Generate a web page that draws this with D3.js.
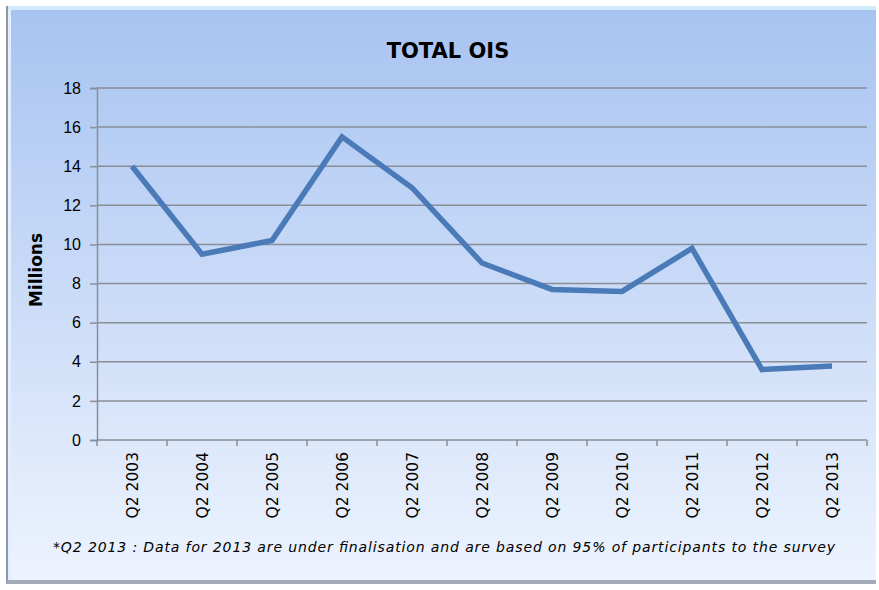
<!DOCTYPE html>
<html>
<head>
<meta charset="utf-8">
<script src="https://cdn.jsdelivr.net/npm/d3@7"></script>
<style>
  body { margin: 0; background: #fff; }
  svg { display: block; font-family: "DejaVu Sans", Verdana, sans-serif; }
</style>
</head>
<body>
<div id="chart"></div>
<script>
// data
const categories = ["Q2 2003", "Q2 2004", "Q2 2005", "Q2 2006", "Q2 2007", "Q2 2008",
                    "Q2 2009", "Q2 2010", "Q2 2011", "Q2 2012", "Q2 2013"];
const totalOis = [14.0, 9.5, 10.2, 15.5, 12.9, 9.05, 7.7, 7.6, 9.8, 3.6, 3.78];
const yTicks = [0, 2, 4, 6, 8, 10, 12, 14, 16, 18];

const W = 879, H = 590;
const margin = { top: 88, right: 12, bottom: 150, left: 97 };
const width = 867 - margin.left;
const height = 440 - margin.top;

const svg = d3.select("#chart").append("svg")
    .attr("width", W).attr("height", H);

// background gradient + frame
const defs = svg.append("defs");
const grad = defs.append("linearGradient").attr("id", "bg")
    .attr("x1", 0).attr("y1", 0).attr("x2", 0).attr("y2", 1);
grad.append("stop").attr("offset", "0%").attr("stop-color", "#a7c3f1");
grad.append("stop").attr("offset", "100%").attr("stop-color", "#eef4fe");

svg.append("rect").attr("x", 7).attr("y", 6).attr("width", 869).attr("height", 578)
    .attr("fill", "url(#bg)");
// bevel edges
svg.append("rect").attr("x", 7).attr("y", 6).attr("width", 869).attr("height", 4)
    .attr("fill", "#d6f0fb").attr("opacity", 0.9);
svg.append("rect").attr("x", 6).attr("y", 6).attr("width", 2).attr("height", 578)
    .attr("fill", "#8e98a8");
svg.append("rect").attr("x", 8).attr("y", 10).attr("width", 3).attr("height", 572)
    .attr("fill", "#e4eefc");
svg.append("rect").attr("x", 7).attr("y", 580).attr("width", 869).attr("height", 4)
    .attr("fill", "#a4abb6");

const g = svg.append("g").attr("transform", `translate(${margin.left},${margin.top})`);

const x = d3.scaleBand().domain(categories).range([0, width]);
const y = d3.scaleLinear().domain([0, 18]).range([height, 0]);

// gridlines
g.selectAll(".grid").data(yTicks.filter(d => d > 0)).enter().append("line")
    .attr("x1", 0).attr("x2", width)
    .attr("y1", d => y(d)).attr("y2", d => y(d))
    .attr("stroke", "#8a8e96").attr("stroke-width", 1.5);

// y axis
const yAxis = g.append("g")
    .call(d3.axisLeft(y).tickValues(yTicks).tickSize(7).tickPadding(9).tickFormat(d3.format("d")));
yAxis.select(".domain").attr("stroke", "#8a8e96").attr("stroke-width", 1.5);
yAxis.selectAll(".tick line").attr("stroke", "#8a8e96").attr("stroke-width", 1.5);
yAxis.selectAll("text").style("font-size", "16px").attr("fill", "#000");

// x axis: ticks between categories
const xAxis = g.append("g").attr("transform", `translate(0,${height})`);
xAxis.append("line").attr("x1", 0).attr("x2", width)
    .attr("stroke", "#8a8e96").attr("stroke-width", 1.5);
xAxis.selectAll(".xtick").data(categories.concat(["end"])).enter().append("line")
    .attr("x1", (d, i) => i * x.step()).attr("x2", (d, i) => i * x.step())
    .attr("y1", 0).attr("y2", 6)
    .attr("stroke", "#8a8e96").attr("stroke-width", 1.5);
xAxis.selectAll(".xlabel").data(categories).enter().append("text")
    .attr("transform", d => `translate(${x(d) + x.bandwidth() / 2 + 6},${12}) rotate(-90)`)
    .attr("text-anchor", "end")
    .style("font-size", "15.5px")
    .text(d => d);

// line
const line = d3.line()
    .x((d, i) => x(categories[i]) + x.bandwidth() / 2)
    .y(d => y(d));
g.append("path").datum(totalOis)
    .attr("d", line)
    .attr("fill", "none")
    .attr("stroke", "#4a7ab8")
    .attr("stroke-width", 5.5)
    .attr("stroke-linejoin", "miter");

// title
svg.append("text").attr("x", 448).attr("y", 58)
    .attr("text-anchor", "middle")
    .style("font-size", "21px").style("font-weight", "bold")
    .text("TOTAL OIS");

// y label
svg.append("text")
    .attr("transform", "translate(42,270) rotate(-90)")
    .attr("text-anchor", "middle")
    .style("font-size", "17px").style("font-weight", "bold")
    .text("Millions");

// footnote
svg.append("text").attr("x", 444).attr("y", 552)
    .attr("text-anchor", "middle")
    .style("font-size", "14px").style("font-style", "italic")
    .attr("textLength", 782)
    .text("*Q2 2013 : Data for 2013 are under finalisation and are based on 95% of participants to the survey");
</script>
</body>
</html>
